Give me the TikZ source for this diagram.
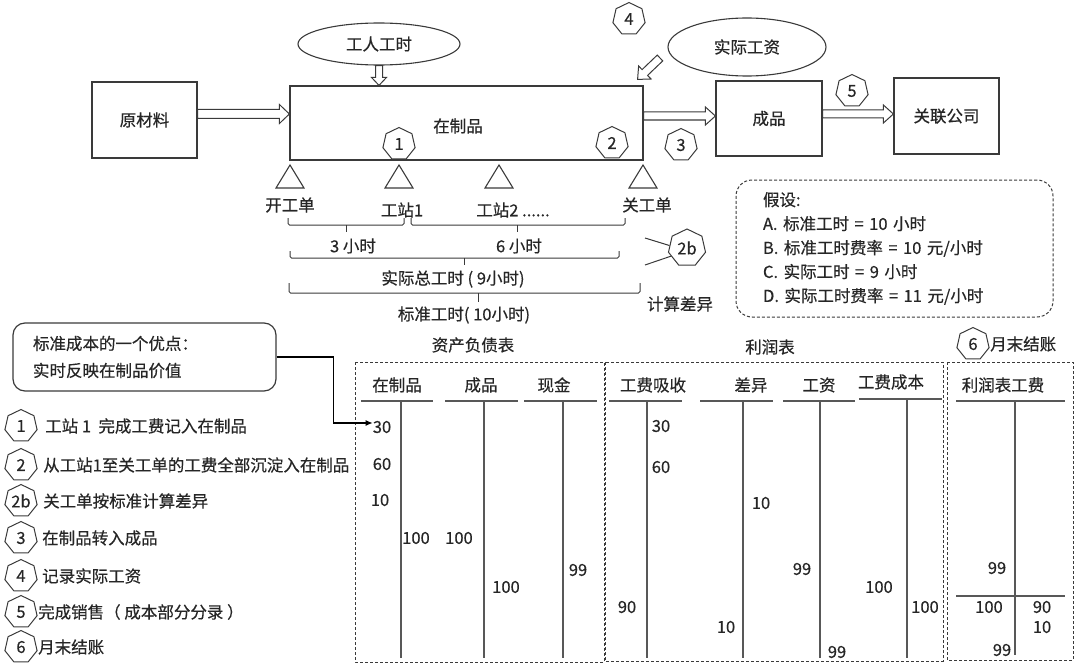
\documentclass[tikz,border=0pt]{standalone}
\usepackage{fontspec}
\setmainfont{Noto Sans CJK SC}[FakeBold=0.45]
\usetikzlibrary{shapes.geometric,calc,arrows.meta}
\definecolor{ln}{HTML}{3A3A3A}
\definecolor{tx}{HTML}{262626}
\newcommand{\fsz}{\fontsize{16.5pt}{20pt}\selectfont}
% block (hollow) arrow: from #1 to #2, shaft half width #3, head half width #4, head length #5
\newcommand{\barrow}[5]{%
  \coordinate (ba-q) at ($(#2)!#5!(#1)$);
  \draw[blk] ($(#1)!#3!90:(#2)$) -- ($(ba-q)!#3!90:(#2)$) -- ($(ba-q)!#4!90:(#2)$) -- (#2)
    -- ($(ba-q)!#4!-90:(#2)$) -- ($(ba-q)!#3!-90:(#2)$) -- ($(#1)!#3!-90:(#2)$) -- cycle;}
\begin{document}
\begin{tikzpicture}[x=1pt,y=-1pt,
  txt/.style={font=\fsz, text=tx, inner sep=0pt},
  box/.style={draw=ln, line width=1.2pt, fill=white, font=\fsz, text=tx, inner sep=0pt},
  ell/.style={draw=ln, line width=1.1pt, ellipse, fill=white, font=\fsz, text=tx, inner sep=0pt},
  hep/.style={draw=ln, line width=1pt, regular polygon, regular polygon sides=7, minimum size=33pt, inner sep=0pt, font=\fsz, text=tx},
  tri/.style={draw=ln, line width=1.1pt},
  brc/.style={draw=ln, line width=1pt, rounded corners=1.5pt},
  dbox/.style={draw=ln, line width=1pt, dash pattern=on 3pt off 2pt},
  blk/.style={draw=ln, line width=1pt, fill=white},
  tline/.style={draw=ln!85, line width=1.4pt},
  conn/.style={draw=black, line width=1.1pt}]
\useasboundingbox (0,0) rectangle (1080,669);

% ---------- top flow ----------
\node[box, minimum width=105pt, minimum height=76pt] (raw) at (144.5,120) {原材料};
\node[box, minimum width=353pt, minimum height=74pt] (wip) at (466.5,123) {};
\node[txt] (wiptxt) at (458,126) {在制品};
\node[box, minimum width=106pt, minimum height=75pt] (fg) at (769,118.5) {成品};
\node[box, minimum width=105pt, minimum height=76pt] (rel) at (946.5,116) {关联公司};
\node[ell, minimum width=162pt, minimum height=42pt] (lab) at (379,44) {工人工时};
\node[ell, minimum width=158pt, minimum height=58pt] (wage) at (747,47) {实际工资};

\coordinate (a1s) at ([yshift=6pt]raw.east);
\coordinate (a1e) at (a1s -| wip.west);
\barrow{a1s}{a1e}{4.5pt}{9.5pt}{10pt}
\coordinate (a2e) at (lab.south |- wip.north);
\barrow{lab.south}{a2e}{3.5pt}{7.5pt}{8pt}
\coordinate (a3s) at (660,58);
\coordinate (a3e) at ([shift={(-6,-6)}]wip.north east);
\barrow{a3s}{a3e}{4pt}{9pt}{10pt}
\coordinate (a4s) at ([yshift=7pt]wip.east);
\coordinate (a4e) at (a4s -| fg.west);
\barrow{a4s}{a4e}{4pt}{9pt}{10pt}
\coordinate (a5s) at ([yshift=4.5pt]fg.east);
\coordinate (a5e) at (a5s -| rel.west);
\barrow{a5s}{a5e}{4pt}{9pt}{10pt}

\node[hep] (h1) at (399,144) {1};
\node[hep] (h2) at (612,143) {2};
\node[hep] (h3) at (681,145) {3};
\node[hep] (h4) at (629,19) {4};
\node[hep] (h5) at (852,91) {5};

% triangles (work stations)
\foreach \x in {290,399,499,643}{
  \draw[tri] (\x,165) -- ++(-14,23) -- ++(28,0) -- cycle;}
\node[txt] (t0) at (290,205) {开工单};
\node[txt] (t1) at (402,210) {工站1};
\node[txt] (t2) at (513,210) {工站2 ......};
\node[txt] (t3) at (647,205) {关工单};

% braces
\draw[brc] (288,218) -- (288,225) -- (404,225) -- (404,218);
\draw[brc] (346,225) -- (346,232);
\draw[brc] (411,218) -- (411,225) -- (625,225) -- (625,218);
\draw[brc] (517,225) -- (517,232);
\node[txt] at (353,246) {3 小时};
\node[txt] at (519,246) {6 小时};
\draw[brc] (290,251) -- (290,258) -- (619,258) -- (619,251);
\draw[brc] (464,258) -- (464,265);
\node[txt] at (453,279) {实际总工时 ( 9小时)};
\draw[brc] (289,283) -- (289,293) -- (640,293) -- (640,283);
\draw[brc] (478,293) -- (478,302);
\node[txt] at (464,315) {标准工时( 10小时)};

\node[hep, minimum size=38pt] (h2b) at (687,248) {2b};
\coordinate (l1) at (645,238);
\coordinate (l2) at (645,265);
\draw[draw=ln, line width=1pt] (l1) -- (h2b.172);
\draw[draw=ln, line width=1pt] (l2) -- (h2b.207);
\node[txt] at (680,304) {计算差异};

% assumptions
\node[dbox, rounded corners=16pt, minimum width=317pt, minimum height=137pt, text width=263pt,
      align=left, inner xsep=0pt, font=\fontsize{16.5pt}{24pt}\selectfont, text=tx] (ass) at (894.5,248.5)
  {假设:\\A. 标准工时 = 10 小时\\B. 标准工时费率 = 10 元/小时\\C. 实际工时 = 9 小时\\D. 实际工时费率 = 11 元/小时};

% advantage box
\node[draw=ln, line width=1.2pt, rounded corners=12pt, minimum width=263pt, minimum height=68pt, text width=223pt,
      align=left, inner xsep=0pt, font=\fontsize{16.5pt}{27pt}\selectfont, text=tx] (adv) at (144.5,357)
  {标准成本的一个优点：\\实时反映在制品价值};

% legend
\node[hep] (g1) at (21,426) {1};
\node[txt, anchor=west] at (45,426) {工站 1 \ 完成工费记入在制品};
\node[hep] (g2) at (21,465) {2};
\node[txt, anchor=west] at (43,465) {从工站1至关工单的工费全部沉淀入在制品};
\node[hep] (g2b) at (21,501) {2b};
\node[txt, anchor=west] at (43,501) {关工单按标准计算差异};
\node[hep] (g3) at (21,538) {3};
\node[txt, anchor=west] at (42,538) {在制品转入成品};
\node[hep] (g4) at (21,576) {4};
\node[txt, anchor=west] at (42,576) {记录实际工资};
\node[hep] (g5) at (21,612) {5};
\node[txt, anchor=west] at (38,612) {完成销售（ 成本部分分录 ）};
\node[hep] (g6) at (21,647) {6};
\node[txt, anchor=west] at (38,647) {月末结账};

% ---------- tables ----------
\node[txt] at (473,345) {资产负债表};
\node[txt] at (770,347) {利润表};
\node[hep] (h6) at (973,344) {6};
\node[txt, anchor=west] at (990,344) {月末结账};

\draw[dbox] (355,362) rectangle (604,662);
\draw[dbox] (605,362) rectangle (943,661);
\draw[dbox] (947,362) rectangle (1073,660);

% balance sheet accounts
\node[txt] at (397,385) {在制品};
\draw[tline] (361,401) -- (433,401); \draw[tline] (401,401) -- (401,658);
\node[txt] at (481,385) {成品};
\draw[tline] (445,401) -- (518,401); \draw[tline] (484,401) -- (484,658);
\node[txt] at (554,385) {现金};
\draw[tline] (524,401) -- (597,401); \draw[tline] (563,401) -- (563,658);

\node[txt] (n30) at (382,427) {30};
\node[txt] at (382,464) {60};
\node[txt] at (380,500) {10};
\node[txt] at (416,538) {100};
\node[txt] at (459,538) {100};
\node[txt] at (506,587) {100};
\node[txt] at (578,570) {99};

% income statement accounts
\node[txt] at (653,385) {工费吸收};
\draw[tline] (609,401) -- (682,401); \draw[tline] (647,401) -- (647,658);
\node[txt] at (751,385) {差异};
\draw[tline] (700,401) -- (773,401); \draw[tline] (743,401) -- (743,658);
\node[txt] at (819,385) {工资};
\draw[tline] (783,401) -- (855,401); \draw[tline] (820,401) -- (820,658);
\node[txt] at (891,382) {工费成本};
\draw[tline] (859,399) -- (942,399); \draw[tline] (907,399) -- (907,658);

\node[txt] at (661,426) {30};
\node[txt] at (661,467) {60};
\node[txt] at (761,503) {10};
\node[txt] at (802,569) {99};
\node[txt] at (879,587) {100};
\node[txt] at (925,607) {100};
\node[txt] at (627,607) {90};
\node[txt] at (726,627) {10};
\node[txt] at (837,652) {99};

% closing account
\node[txt] at (1003,385) {利润表工费};
\draw[tline] (956,401) -- (1065,401); \draw[tline] (1015,401) -- (1015,655);
\draw[tline] (956,596) -- (1065,596);
\node[txt] at (997,568) {99};
\node[txt] at (989,607) {100};
\node[txt] at (1042,607) {90};
\node[txt] at (1042,627) {10};
\node[txt] at (1002,650) {99};

% connector from advantage box to WIP entry
\draw[conn, -{Latex[length=7pt,width=6pt]}] (adv.east) -- ++(57,0) |- ([yshift=4pt]n30.west);
\end{tikzpicture}
\end{document}
